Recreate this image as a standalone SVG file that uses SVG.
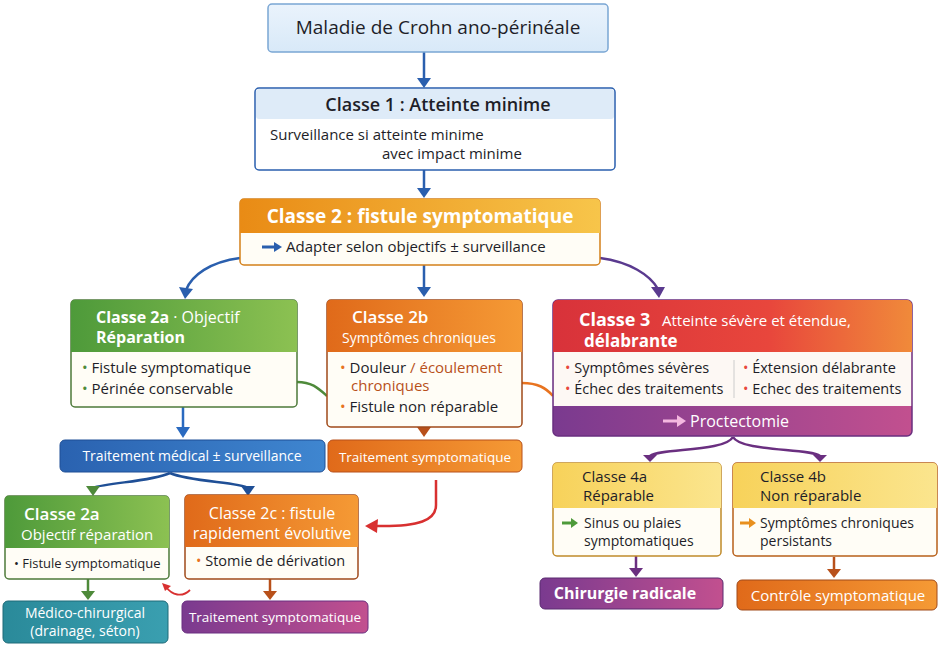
<svg xmlns="http://www.w3.org/2000/svg" width="941" height="648" viewBox="0 0 941 648">
<defs>
<linearGradient id="gGreen" x1="0" y1="0" x2="1" y2="0"><stop offset="0" stop-color="#4e9a3a"/><stop offset="1" stop-color="#8cc152"/></linearGradient>
<linearGradient id="gOrange" x1="0" y1="0" x2="1" y2="0"><stop offset="0" stop-color="#e06a1a"/><stop offset="1" stop-color="#f59a35"/></linearGradient>
<linearGradient id="gGold" x1="0" y1="0" x2="1" y2="0"><stop offset="0" stop-color="#e98b15"/><stop offset="1" stop-color="#f7c54a"/></linearGradient>
<linearGradient id="gRed" x1="0" y1="0" x2="1" y2="0"><stop offset="0" stop-color="#d8323a"/><stop offset="0.6" stop-color="#e8463c"/><stop offset="1" stop-color="#f08a3a"/></linearGradient>
<linearGradient id="gPurple" x1="0" y1="0" x2="1" y2="0"><stop offset="0" stop-color="#7a3a8f"/><stop offset="1" stop-color="#c2508f"/></linearGradient>
<linearGradient id="gBlue" x1="0" y1="0" x2="1" y2="0"><stop offset="0" stop-color="#2a62b0"/><stop offset="1" stop-color="#3f86d0"/></linearGradient>
<linearGradient id="gTeal" x1="0" y1="0" x2="1" y2="0"><stop offset="0" stop-color="#2a8a9a"/><stop offset="1" stop-color="#3a9fb0"/></linearGradient>
<linearGradient id="gYellow" x1="0" y1="0" x2="1" y2="0"><stop offset="0" stop-color="#f7d25a"/><stop offset="1" stop-color="#fbe58e"/></linearGradient>
<linearGradient id="gTop" x1="0" y1="0" x2="0" y2="1"><stop offset="0" stop-color="#eaf3fc"/><stop offset="1" stop-color="#d8e9f8"/></linearGradient>
</defs>
<style>
text{font-family:"Open Sans","Noto Sans","Liberation Sans",sans-serif;}
.w{fill:#fff}
.d{fill:#1e1e28}
.bt{font-weight:bold}
.body{fill:#fffdf6}
.c{text-anchor:middle}
.ln{fill:none;stroke-width:2.5}
</style>
<rect width="941" height="648" fill="#fff"/>

<g id="connectors">
<path class="ln" d="M424,52 V80" stroke="#2a5fae"/><path d="M417,78 L431,78 L424,88 z" fill="#2a5fae"/>
<path class="ln" d="M424,170 V190" stroke="#2a5fae"/><path d="M417,188 L431,188 L424,198 z" fill="#2a5fae"/>
<path class="ln" d="M240,258 C210,262 192,275 186,290" stroke="#2a5fae"/><path d="M179,287 L193,289 L185,299 z" fill="#2a5fae"/>
<path class="ln" d="M424,265 V289" stroke="#2a5fae"/><path d="M417,287 L431,287 L424,297 z" fill="#2a5fae"/>
<path class="ln" d="M600,258 C630,262 650,275 658,289" stroke="#5a3a8f"/><path d="M651,287 L665,287 L659,298 z" fill="#5a3a8f"/>
<path class="ln" d="M297,382 C312,382 318,388 327,396" stroke="#4e8a3a"/>
<path class="ln" d="M522,383 C538,383 546,388 553,396" stroke="#e8731f"/>
<path class="ln" d="M183,407 V429" stroke="#2a6ac0"/><path d="M176,427 L190,427 L183,438 z" fill="#2a6ac0"/>
<path d="M417,427 L431,427 L424,437 z" fill="#b8501a"/>
<path class="ln" d="M170,473 C150,482 110,482 92,488" stroke="#1f4f96"/><path d="M86,486 L100,486 L93,496 z" fill="#4e8a3a"/>
<path class="ln" d="M170,473 C190,482 240,482 248,488" stroke="#1f4f96"/><path d="M241,486 L255,486 L248,496 z" fill="#1f4f96"/>
<path class="ln" d="M436,480 V505 C436,520 420,527 375,526" stroke="#d83030"/><path d="M365,526 L378,519 L377,533 z" fill="#d83030"/>
<path fill="none" stroke="#d83030" stroke-width="1.8" d="M190,590 C182,598 172,595 166,587"/><path d="M162,583 L171,586 L165,591 z" fill="#d83030"/>
<path class="ln" d="M88,579 V593" stroke="#4e8a3a"/><path d="M81,591 L95,591 L88,600 z" fill="#4e8a3a"/>
<path class="ln" d="M270,579 V593" stroke="#b8501a"/><path d="M263,591 L277,591 L270,600 z" fill="#b8501a"/>
<path class="ln" d="M733,437 C725,452 660,448 650,456" stroke="#6a2f80"/><path d="M643,455 L657,455 L650,462 z" fill="#6a2f80"/>
<path class="ln" d="M733,437 C741,452 810,448 820,456" stroke="#6a2f80"/><path d="M813,455 L827,455 L820,462 z" fill="#6a2f80"/>
<path class="ln" d="M636,556 V570" stroke="#6a2f80"/><path d="M629,568 L643,568 L636,577 z" fill="#6a2f80"/>
<path class="ln" d="M834,557 V571" stroke="#b8501a"/><path d="M827,569 L841,569 L834,578 z" fill="#b8501a"/>
</g>

<g id="top">
<rect x="268" y="4" width="340" height="48" rx="4" fill="url(#gTop)" stroke="#7aa6d4" stroke-width="1.5"/>
<text x="438" y="34" class="c d" font-size="19">Maladie de Crohn ano-périnéale</text>
</g>

<g id="classe1">
<rect x="255" y="88" width="360" height="82" rx="4" fill="#fff" stroke="#2a5fae" stroke-width="1.5"/>
<rect x="256" y="89" width="358" height="30" rx="3" fill="#deebf8"/>
<text x="438" y="111" class="c d" font-weight="600" font-size="18">Classe 1 : Atteinte minime</text>
<text x="270" y="140" class="d" font-size="15">Surveillance si atteinte minime</text>
<text x="382" y="159" class="d" font-size="15">avec impact minime</text>
</g>

<g id="classe2">
<rect x="240" y="199" width="360" height="66" rx="4" fill="#fffdf6" stroke="#d4801a" stroke-width="1.5"/>
<path d="M244,199 H596 A4,4 0 0 1 600,203 V233 H240 V203 A4,4 0 0 1 244,199 z" fill="url(#gGold)"/>
<text x="420" y="223" class="c w bt" font-size="19">Classe 2 : fistule symptomatique</text>
<path d="M262,247 H276" stroke="#2a5fae" stroke-width="3"/><path d="M274,242 L282,247 L274,252 z" fill="#2a5fae"/>
<text x="286" y="252" class="d" font-size="15">Adapter selon objectifs ± surveillance</text>
</g>

<g id="classe2a">
<rect x="71" y="300" width="226" height="107" rx="4" class="body" stroke="#4e7a3a" stroke-width="1.5"/>
<path d="M75,300 H293 A4,4 0 0 1 297,304 V352 H71 V304 A4,4 0 0 1 75,300 z" fill="url(#gGreen)"/>
<text x="96" y="323" class="w" font-size="16"><tspan font-weight="bold">Classe 2a</tspan> · Objectif</text>
<text x="96" y="343" class="w bt" font-size="16">Réparation</text>
<text x="82" y="373" class="d" font-size="15"><tspan fill="#4e8a3a">•</tspan> Fistule symptomatique</text>
<text x="82" y="394" class="d" font-size="15"><tspan fill="#4e8a3a">•</tspan> Périnée conservable</text>
</g>

<g id="classe2b">
<rect x="327" y="300" width="195" height="127" rx="4" class="body" stroke="#a04a1a" stroke-width="1.5"/>
<path d="M331,300 H518 A4,4 0 0 1 522,304 V352 H327 V304 A4,4 0 0 1 331,300 z" fill="url(#gOrange)"/>
<text x="352" y="323" class="w" font-weight="600" font-size="17">Classe 2b</text>
<text x="342" y="343" class="w" font-size="14">Symptômes chroniques</text>
<text x="340" y="373" class="d" font-size="15"><tspan fill="#e8731f">•</tspan> Douleur <tspan fill="#b8501a">/ écoulement</tspan></text>
<text x="351" y="391" fill="#b8501a" font-size="15">chroniques</text>
<text x="340" y="412" class="d" font-size="15"><tspan fill="#e8731f">•</tspan> Fistule non réparable</text>
</g>

<g id="classe3">
<rect x="553" y="300" width="359" height="136" rx="5" fill="url(#gPurple)" stroke="#6a2f80" stroke-width="1.5"/>
<path d="M558,300 H907 A5,5 0 0 1 912,305 V352 H553 V305 A5,5 0 0 1 558,300 z" fill="url(#gRed)"/>
<rect x="553.8" y="352" width="357.4" height="54" fill="#fdf8f4"/>
<text x="579" y="326" class="w bt" font-size="18">Classe 3</text>
<text x="662" y="326" class="w" font-size="15">Atteinte sévère et étendue,</text>
<text x="584" y="347" class="w bt" font-size="17">délabrante</text>
<line x1="734" y1="360" x2="734" y2="398" stroke="#ccc" stroke-width="1"/>
<text x="565" y="373" class="d" font-size="14.5"><tspan fill="#e8463c">•</tspan> Symptômes sévères</text>
<text x="565" y="394" class="d" font-size="14.5"><tspan fill="#e8463c">•</tspan> Échec des traitements</text>
<text x="743" y="373" class="d" font-size="14.5"><tspan fill="#e8463c">•</tspan> Éxtension délabrante</text>
<text x="743" y="394" class="d" font-size="14.5"><tspan fill="#e8463c">•</tspan> Echec des traitements</text>
<path d="M663,421 H680" stroke="#f4b8e0" stroke-width="3"/><path d="M677,415 L686,421 L677,427 z" fill="#f4b8e0"/>
<text x="690" y="427" class="w" font-size="16">Proctectomie</text>
</g>

<g id="traitMed">
<rect x="60" y="440" width="265" height="32" rx="5" fill="url(#gBlue)" stroke="#1f4f96" stroke-width="1"/>
<text x="192" y="461" class="c w" font-size="14">Traitement médical ± surveillance</text>
</g>

<g id="traitSympt1">
<rect x="328" y="440" width="194" height="32" rx="5" fill="url(#gOrange)" stroke="#b8501a" stroke-width="1"/>
<text x="425" y="462" class="c w" font-size="13.5">Traitement symptomatique</text>
</g>

<g id="classe2a-bis">
<rect x="5" y="496" width="164" height="83" rx="4" class="body" stroke="#4e7a3a" stroke-width="1.5"/>
<path d="M9,496 H165 A4,4 0 0 1 169,500 V548 H5 V500 A4,4 0 0 1 9,496 z" fill="url(#gGreen)"/>
<text x="24" y="520" class="w" font-weight="600" font-size="17">Classe 2a</text>
<text x="21" y="540" class="w" font-size="15">Objectif réparation</text>
<text x="14" y="568" class="d" font-size="13">• Fistule symptomatique</text>
</g>

<g id="classe2c">
<rect x="185" y="495" width="173" height="84" rx="4" class="body" stroke="#a04a1a" stroke-width="1.5"/>
<path d="M189,495 H354 A4,4 0 0 1 358,499 V547 H185 V499 A4,4 0 0 1 189,495 z" fill="url(#gOrange)"/>
<text x="272" y="519" class="c w" font-size="16">Classe 2c : fistule</text>
<text x="272" y="539" class="c w" font-size="16">rapidement évolutive</text>
<text x="196" y="566" class="d" font-size="14.5"><tspan fill="#e8731f">•</tspan> Stomie de dérivation</text>
</g>

<g id="medico">
<rect x="3" y="601" width="165" height="42" rx="5" fill="url(#gTeal)" stroke="#1f6a78" stroke-width="1"/>
<text x="85" y="618" class="c w" font-size="14">Médico-chirurgical</text>
<text x="85" y="636" class="c w" font-size="14">(drainage, séton)</text>
</g>

<g id="traitSympt2">
<rect x="182" y="601" width="186" height="32" rx="5" fill="url(#gPurple)" stroke="#6a2f80" stroke-width="1"/>
<text x="275" y="622" class="c w" font-size="13.5">Traitement symptomatique</text>
</g>

<g id="classe4a">
<rect x="553" y="463" width="168" height="93" rx="4" class="body" stroke="#c08a2a" stroke-width="1.5"/>
<path d="M557,463 H717 A4,4 0 0 1 721,467 V508 H553 V467 A4,4 0 0 1 557,463 z" fill="url(#gYellow)"/>
<text x="582" y="482" class="d" font-size="15">Classe 4a</text>
<text x="583" y="501" class="d" font-size="15">Réparable</text>
<path d="M562,523 H573" stroke="#4e9a3a" stroke-width="3"/><path d="M571,518 L578,523 L571,528 z" fill="#4e9a3a"/>
<text x="584" y="528" class="d" font-size="14">Sinus ou plaies</text>
<text x="584" y="546" class="d" font-size="14">symptomatiques</text>
</g>

<g id="classe4b">
<rect x="733" y="463" width="204" height="93" rx="4" class="body" stroke="#b8601a" stroke-width="1.5"/>
<path d="M737,463 H933 A4,4 0 0 1 937,467 V508 H733 V467 A4,4 0 0 1 737,463 z" fill="url(#gYellow)"/>
<text x="760" y="482" class="d" font-size="15">Classe 4b</text>
<text x="760" y="501" class="d" font-size="15">Non réparable</text>
<path d="M740,523 H751" stroke="#e8901f" stroke-width="3"/><path d="M749,518 L756,523 L749,528 z" fill="#e8901f"/>
<text x="760" y="528" class="d" font-size="14">Symptômes chroniques</text>
<text x="760" y="546" class="d" font-size="14">persistants</text>
</g>

<g id="chirurgie">
<rect x="540" y="578" width="183" height="31" rx="5" fill="url(#gPurple)" stroke="#5a2a70" stroke-width="1"/>
<text x="625" y="599" class="c w bt" font-size="16">Chirurgie radicale</text>
</g>

<g id="controle">
<rect x="737" y="580" width="200" height="30" rx="5" fill="url(#gOrange)" stroke="#a04a1a" stroke-width="1"/>
<text x="838" y="601" class="c w" font-size="15">Contrôle symptomatique</text>
</g>
</svg>
